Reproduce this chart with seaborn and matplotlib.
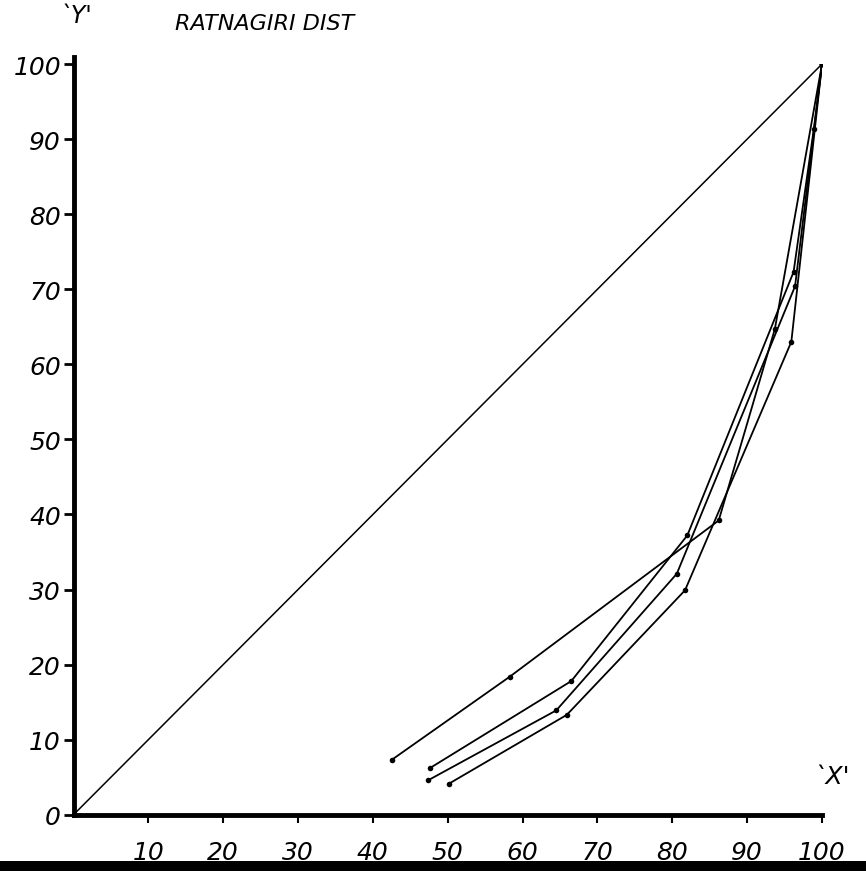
import pandas as pd
import matplotlib.pyplot as plt
import seaborn as sns

# Lorenz curves, Ratnagiri district
curve_a_x = [42.5, 58.3, 86.2, 93.7, 100]
curve_a_y = [7.3, 18.4, 39.2, 64.7, 100]
curve_b_x = [47.6, 66.5, 82.0, 96.2, 98.9, 100]
curve_b_y = [6.2, 17.8, 37.2, 72.3, 91.3, 100]
curve_c_x = [47.4, 64.5, 80.6, 96.4, 100]
curve_c_y = [4.6, 13.9, 32.1, 70.4, 100]
curve_d_x = [50.1, 65.9, 81.7, 95.9, 100]
curve_d_y = [4.1, 13.3, 29.9, 63.0, 100]

equality_x = [0, 100]
equality_y = [0, 100]

x_ticks = [10, 20, 30, 40, 50, 60, 70, 80, 90, 100]
y_ticks = [0, 10, 20, 30, 40, 50, 60, 70, 80, 90, 100]

frames = []
for name, xs, ys in [('A', curve_a_x, curve_a_y), ('B', curve_b_x, curve_b_y),
                     ('C', curve_c_x, curve_c_y), ('D', curve_d_x, curve_d_y)]:
    frames.append(pd.DataFrame({'curve': name, 'x': xs, 'y': ys}))
df = pd.concat(frames, ignore_index=True)

sns.set_style('ticks', rc={'text.color': 'black', 'axes.edgecolor': 'black',
                           'xtick.color': 'black', 'ytick.color': 'black',
                           'axes.labelcolor': 'black'})
plt.rcParams['font.family'] = ['DejaVu Sans']

fig = plt.figure(figsize=(8.66, 8.79), dpi=100)
ax = fig.add_axes([0.0849, 0.072, 0.8643, 0.854])

# line of equal distribution
sns.lineplot(x=equality_x, y=equality_y, ax=ax, color='black', linewidth=1.1)

sns.lineplot(data=df, x='x', y='y', units='curve', estimator=None, sort=False,
             ax=ax, color='black', linewidth=1.3, marker='o', markersize=4,
             markeredgewidth=0)

ax.set_xlim(0, 100)
ax.set_ylim(0, 100)
ax.set_xticks(x_ticks)
ax.set_yticks(y_ticks)
ax.set_xticklabels([str(t) for t in x_ticks], fontsize=18, style='italic')
ax.set_yticklabels([str(t) for t in y_ticks], fontsize=18, style='italic')
ax.set_xlabel('')
ax.set_ylabel('')

sns.despine(ax=ax)
ax.spines['left'].set_linewidth(3.5)
ax.spines['bottom'].set_linewidth(3.5)
ax.spines['left'].set_bounds(0, 101)
ax.tick_params(axis='y', direction='out', length=7, width=2, pad=2)
ax.tick_params(axis='x', direction='out', length=6, width=1.5, pad=12)

ax.text(13.6, 105.5, 'RATNAGIRI DIST', fontsize=16, style='italic',
        va='center', ha='left', clip_on=False)
ax.text(0.3, 106.6, "`Y'", fontsize=17, style='italic',
        va='center', ha='center', clip_on=False)
ax.text(101.3, 5.2, "`X'", fontsize=18, style='italic',
        va='center', ha='center', clip_on=False)

# heavy rule along the bottom edge of the scan
fig.add_artist(plt.Rectangle((0, 7 / 879), 1, 10 / 879, transform=fig.transFigure,
                             color='black', linewidth=0))

fig.savefig('out.png', dpi=100, facecolor='white')
